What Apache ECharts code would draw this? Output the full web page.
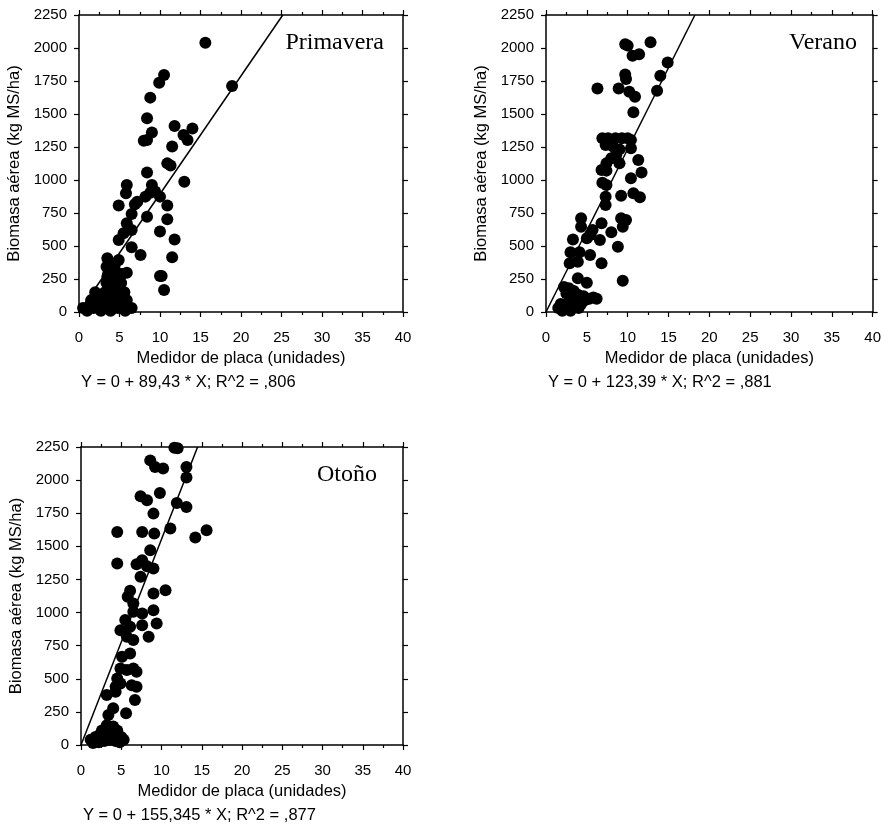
<!DOCTYPE html>
<html>
<head>
<meta charset="utf-8">
<script src="https://cdn.jsdelivr.net/npm/echarts@6/dist/echarts.min.js"></script>
<style>
html,body{margin:0;padding:0;background:#fff;}
#c{width:884px;height:825px;}
</style>
</head>
<body>
<div id="c"></div>
<script>
// ---- Data ----
var xTicks = [0, 5, 10, 15, 20, 25, 30, 35, 40];
var yTicks = [0, 250, 500, 750, 1000, 1250, 1500, 1750, 2000, 2250];
var seasons = ['Primavera', 'Verano', 'Otoño'];
var slopes = [89.43, 123.39, 155.345];
var equations = [
  'Y = 0 + 89,43 * X; R^2 = ,806',
  'Y = 0 + 123,39 * X; R^2 = ,881',
  'Y = 0 + 155,345 * X; R^2 = ,877'
];
var xAxisName = 'Medidor de placa (unidades)';
var yAxisName = 'Biomasa aérea (kg MS/ha)';

var primavera = [
  [15.6,2040],[18.9,1712],[10.5,1795],[9.9,1737],[8.8,1624],[8.4,1467],[9.0,1359],[8.0,1298],[8.4,1303],
  [11.8,1409],[14.0,1391],[12.9,1341],[13.4,1303],[11.5,1253],[10.9,1126],[11.3,1109],[13.0,987],
  [8.4,1056],[9.0,962],[8.8,904],[9.4,912],[8.2,874],[10.0,874],[7.2,836],[6.9,816],[8.4,722],
  [10.9,806],[10.9,702],[10.0,609],[11.8,550],[11.5,414],[10.0,273],[10.2,273],[10.5,167],
  [5.9,962],[5.8,899],[4.9,806],[6.5,742],[5.9,672],[6.5,621],[5.5,596],[4.9,545],[6.5,490],
  [7.6,432],[4.9,394],[3.5,407],[3.4,343],[5.9,298],[5.3,288],[3.5,268],
  [0.5,30],[1.2,30],[1.8,30],[2.4,30],[3.0,30],[3.6,30],[4.2,30],[4.8,30],[5.4,30],[6.0,30],[6.5,30],
  [1.5,90],[2.2,90],[2.9,90],[3.5,90],[4.1,90],[4.7,90],[5.3,90],[5.9,90],
  [2.0,150],[3.2,150],[3.8,150],[4.4,150],[5.0,150],[5.6,150],
  [3.4,220],[4.0,220],[4.6,220],[5.2,220],
  [3.6,290],[4.2,290],[4.9,290],[3.7,350],[4.4,350],
  [1.0,10],[2.7,10],[3.9,10],[5.7,10]
];
var verano = [
  [9.7,2028],[10.0,2018],[12.8,2043],[10.6,1942],[11.4,1952],[14.9,1891],[14.0,1790],[9.7,1800],[9.8,1765],
  [6.3,1694],[8.9,1694],[10.2,1669],[10.9,1631],[13.6,1677],[10.7,1513],
  [6.9,1316],[7.6,1316],[8.5,1316],[9.3,1316],[10.0,1316],[10.4,1303],[7.3,1265],[8.2,1253],[9.0,1232],
  [10.4,1240],[8.6,1189],[8.0,1164],[9.0,1126],[7.4,1126],[11.3,1152],[11.7,1056],[10.4,1013],[6.8,1076],
  [7.4,1071],[6.9,980],[7.4,962],[7.3,874],[7.3,811],[9.2,881],[10.7,899],[11.5,869],[9.2,710],[9.8,697],
  [9.4,646],[8.0,604],[8.8,495],[9.4,237],[6.8,672],[6.6,545],[5.4,583],[5.7,621],[5.0,558],[4.3,710],
  [4.3,646],[3.3,550],[3.0,452],[4.1,452],[5.4,432],[2.9,369],[3.9,381],[6.8,369],[3.9,255],[5.0,222],
  [2.2,190],[2.8,180],[3.4,160],[2.5,140],[3.2,120],[3.9,130],[1.8,60],[2.3,30],[2.8,70],[3.3,40],
  [3.8,80],[4.3,60],[4.8,90],[5.3,100],[5.8,110],[6.2,100],[2.0,10],[3.0,10],[4.0,30],[4.6,120],[1.5,30]
];
var otono = [
  [11.6,2245],[12.0,2240],[8.6,2149],[9.2,2099],[10.2,2087],[13.1,2099],[13.1,2019],[9.8,1903],[7.4,1878],
  [8.2,1848],[11.9,1828],[13.1,1797],[9.0,1747],[4.5,1609],[7.6,1609],[9.1,1596],[11.1,1634],[15.6,1621],
  [14.2,1566],[8.6,1471],[4.5,1370],[6.9,1365],[7.6,1395],[8.2,1350],[9.0,1332],[7.4,1270],[6.1,1164],
  [5.8,1119],[6.5,1068],[9.0,1144],[10.5,1169],[6.5,1006],[7.6,993],[9.0,1018],[9.4,918],[5.5,943],
  [6.1,892],[4.9,867],[7.6,905],[8.4,817],[5.7,817],[6.5,792],[5.1,666],[6.1,691],[4.9,578],[5.7,566],
  [6.5,578],[6.9,553],[4.5,503],[4.9,465],[6.3,452],[6.9,440],[6.7,339],[4.3,440],[4.3,402],[3.2,377],
  [4.0,277],[3.4,226],[5.6,239],
  [1.2,40],[1.8,60],[2.4,80],[3.0,100],[3.5,130],[4.0,140],[4.5,110],[5.0,60],[5.3,40],[1.5,15],
  [2.2,20],[2.9,30],[3.6,40],[4.3,30],[4.8,20],[2.6,110],[3.2,150],[4.2,70]
];
var seasonData = [primavera, verano, otono];

// ---- Layout ----
var grids = [
  {left: 79, top: 15, width: 324, height: 297},
  {left: 546, top: 15, width: 328, height: 297},
  {left: 81, top: 447, width: 322, height: 298}
];
var titleRight = [384, 857, 377];
var sans = '"Liberation Sans", Arial, sans-serif';
var serif = '"Liberation Serif", "Times New Roman", serif';
var xMin = xTicks[0], xMax = xTicks[xTicks.length - 1], xInt = xTicks[1] - xTicks[0];
var yMin = yTicks[0], yMax = yTicks[yTicks.length - 1], yInt = yTicks[1] - yTicks[0];
var plain = function (v) { return String(v); };

var xAxes = [], yAxes = [], series = [], graphics = [];
var lineSt = {color: '#000', width: 1.5};
grids.forEach(function (g, i) {
  var base = {
    gridIndex: i, type: 'value', min: xMin, max: xMax, interval: xInt,
    splitLine: {show: false},
    axisLine: {show: true, onZero: false, lineStyle: lineSt},
    axisTick: {show: true, length: 5, lineStyle: {color: '#000', width: 1.2}},
    minorTick: {show: true, splitNumber: 2, length: 3, lineStyle: {color: '#000', width: 1.2}},
    minorSplitLine: {show: false}
  };
  xAxes.push(Object.assign({}, base, {
    position: 'bottom',
    axisLabel: {fontSize: 15, color: '#000', fontFamily: sans, margin: 18, formatter: plain},
    name: xAxisName, nameLocation: 'middle', nameGap: 38,
    nameTextStyle: {fontSize: 16.5, color: '#000', fontFamily: sans}
  }));
  xAxes.push(Object.assign({}, base, {position: 'top', axisLabel: {show: false}}));
  var ybase = {
    gridIndex: i, type: 'value', min: yMin, max: yMax, interval: yInt,
    splitLine: {show: false},
    axisLine: {show: true, onZero: false, lineStyle: lineSt},
    axisTick: {show: true, length: 5, lineStyle: {color: '#000', width: 1.2}}
  };
  yAxes.push(Object.assign({}, ybase, {
    position: 'left',
    axisLabel: {fontSize: 15, color: '#000', fontFamily: sans, margin: 12, formatter: plain},
    name: yAxisName, nameLocation: 'middle', nameGap: 56,
    nameTextStyle: {fontSize: 16.5, color: '#000', fontFamily: sans}
  }));
  yAxes.push(Object.assign({}, ybase, {position: 'right', axisLabel: {show: false}}));

  series.push({
    type: 'scatter', xAxisIndex: 2 * i, yAxisIndex: 2 * i,
    data: seasonData[i], symbol: 'circle', symbolSize: 12,
    itemStyle: {color: '#000', opacity: 1}, clip: false, silent: true
  });
  series.push({
    type: 'line', xAxisIndex: 2 * i, yAxisIndex: 2 * i,
    data: [[0, 0], [yMax / slopes[i], yMax]], symbol: 'none',
    lineStyle: {color: '#000', width: 1.5}, silent: true
  });
  graphics.push({
    type: 'text', right: 884 - titleRight[i], top: g.top + 16,
    style: {text: seasons[i], font: '24px ' + serif, fill: '#000'}
  });
  graphics.push({
    type: 'text', left: g.left + 2, top: g.top + g.height + 62,
    style: {text: equations[i], font: '16.5px ' + sans, fill: '#000'}
  });
});

var chart = echarts.init(document.getElementById('c'), null, {renderer: 'canvas'});
chart.setOption({
  animation: false,
  backgroundColor: '#fff',
  grid: grids,
  xAxis: xAxes,
  yAxis: yAxes,
  series: series,
  graphic: graphics
});
</script>
</body>
</html>
